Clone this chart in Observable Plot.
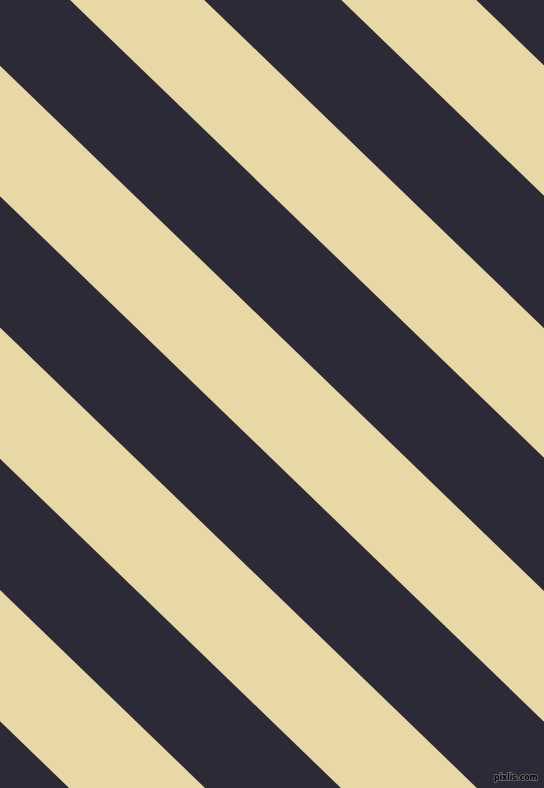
<!DOCTYPE html>
<html>
<head>
<meta charset="utf-8">
<script src="https://cdn.jsdelivr.net/npm/d3@7"></script>
<script src="https://cdn.jsdelivr.net/npm/@observablehq/plot@0.6"></script>
<style>
  html, body { margin: 0; padding: 0; background: #2c2a36; }
  #chart svg { display: block; }
</style>
</head>
<body>
<div id="chart"></div>
<script>
// Stripe boundaries: intercepts c of lines y = slope * x + c (pixels, y down)
const boundaries = [-459.9, -329.6, -197.2, -67.6, 65.7, 196.3, 327.5, 458.8, 590.0, 721.3];
const slope = 0.9657; // tan(44°)
const xEdges = [-20, 564];
const darkColor = "#2c2a36";
const lightColor = "#e8d8a6";
const watermark = ["pixlis.com"];

// light stripes lie between boundary pairs (0,1), (2,3), ...
const stripes = [];
for (let i = 0; i + 1 < boundaries.length; i += 2) {
  for (const x of xEdges) {
    stripes.push({stripe: i / 2, x, y1: slope * x + boundaries[i], y2: slope * x + boundaries[i + 1]});
  }
}

const W = 544, H = 788;
const chart = Plot.plot({
  width: W,
  height: H,
  margin: 0,
  x: {domain: [0, W], range: [0, W], axis: null},
  y: {domain: [0, H], range: [0, H], axis: null},
  style: {background: darkColor, overflow: "hidden"},
  marks: [
    Plot.areaY(stripes, {x: "x", y1: "y1", y2: "y2", z: "stripe", fill: lightColor, clip: true, curve: "linear"}),
    Plot.text(watermark, {
      x: () => 537, y: () => 777, text: d => d, textAnchor: "end",
      fill: "#000", stroke: "#77757c", strokeWidth: 1.4, paintOrder: "stroke",
      fontFamily: "DejaVu Sans Condensed, DejaVu Sans", fontStretch: "condensed",
      fontSize: 8.5, fontWeight: "bold"
    })
  ]
});
document.getElementById("chart").append(chart);
</script>
</body>
</html>
